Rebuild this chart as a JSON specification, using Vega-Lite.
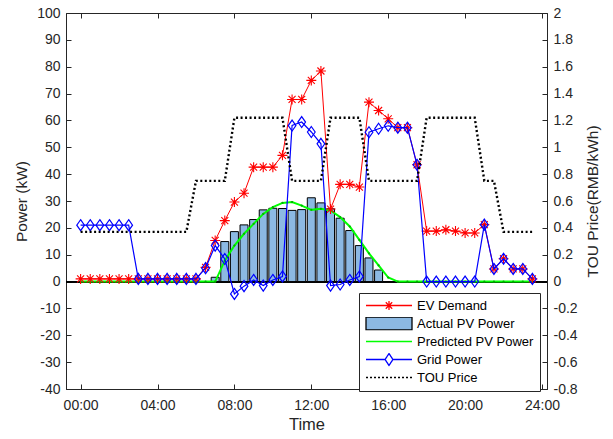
{
  "$schema": "https://vega.github.io/schema/vega-lite/v6.json",
  "width": 481,
  "height": 376,
  "autosize": "none",
  "padding": {"left": 66, "top": 13, "right": 66, "bottom": 50},
  "background": "white",
  "data": {"values": [
    {"t": 0, "ev": 1, "pv": null, "pred": 0, "grid": 21, "tou": 0.37},
    {"t": 0.5, "ev": 1, "pv": null, "pred": 0, "grid": 21, "tou": 0.37},
    {"t": 1, "ev": 1, "pv": null, "pred": 0, "grid": 21, "tou": 0.37},
    {"t": 1.5, "ev": 1, "pv": null, "pred": 0, "grid": 21, "tou": 0.37},
    {"t": 2, "ev": 1, "pv": null, "pred": 0, "grid": 21, "tou": 0.37},
    {"t": 2.5, "ev": 1, "pv": null, "pred": 0, "grid": 21, "tou": 0.37},
    {"t": 3, "ev": 1, "pv": null, "pred": 0, "grid": 1, "tou": 0.37},
    {"t": 3.5, "ev": 1, "pv": null, "pred": 0, "grid": 1, "tou": 0.37},
    {"t": 4, "ev": 1, "pv": null, "pred": 0, "grid": 1, "tou": 0.37},
    {"t": 4.5, "ev": 1, "pv": null, "pred": 0, "grid": 1, "tou": 0.37},
    {"t": 5, "ev": 1, "pv": null, "pred": 0, "grid": 1, "tou": 0.37},
    {"t": 5.5, "ev": 1, "pv": null, "pred": 0, "grid": 1, "tou": 0.37},
    {"t": 6, "ev": 1, "pv": null, "pred": 0, "grid": 1, "tou": 0.75},
    {"t": 6.5, "ev": 5.3, "pv": null, "pred": 0, "grid": 5, "tou": 0.75},
    {"t": 7, "ev": 15.3, "pv": 1.6, "pred": 0, "grid": 13.4, "tou": 0.75},
    {"t": 7.5, "ev": 22.7, "pv": 14.9, "pred": 7.8, "grid": 8.4, "tou": 0.75},
    {"t": 8, "ev": 29.6, "pv": 18.6, "pred": 13.4, "grid": -4.6, "tou": 1.22},
    {"t": 8.5, "ev": 32.9, "pv": 21.1, "pred": 17.8, "grid": -1.7, "tou": 1.22},
    {"t": 9, "ev": 42.6, "pv": 23.1, "pred": 21.5, "grid": 0.6, "tou": 1.22},
    {"t": 9.5, "ev": 42.6, "pv": 26.7, "pred": 25.2, "grid": -1.5, "tou": 1.22},
    {"t": 10, "ev": 42.6, "pv": 27.3, "pred": 27.7, "grid": 0.6, "tou": 1.22},
    {"t": 10.5, "ev": 47, "pv": 27.2, "pred": 29.3, "grid": 1.9, "tou": 1.22},
    {"t": 11, "ev": 67.8, "pv": 26.5, "pred": 29.6, "grid": 58.1, "tou": 0.75},
    {"t": 11.5, "ev": 67.8, "pv": 26.8, "pred": 28.3, "grid": 59.4, "tou": 0.75},
    {"t": 12, "ev": 74.9, "pv": 31.2, "pred": 26.7, "grid": 55.7, "tou": 0.75},
    {"t": 12.5, "ev": 78.4, "pv": 29.3, "pred": 27.1, "grid": 51.3, "tou": 0.75},
    {"t": 13, "ev": 27, "pv": 27.1, "pred": 26.5, "grid": -1.5, "tou": 1.22},
    {"t": 13.5, "ev": 36.2, "pv": 23.6, "pred": 24, "grid": -1.1, "tou": 1.22},
    {"t": 14, "ev": 36.2, "pv": 19.0, "pred": 20.5, "grid": 0.6, "tou": 1.22},
    {"t": 14.5, "ev": 35.2, "pv": 13.4, "pred": 15.5, "grid": 1.9, "tou": 1.22},
    {"t": 15, "ev": 66.8, "pv": 8.8, "pred": 10.5, "grid": 55.6, "tou": 0.75},
    {"t": 15.5, "ev": 63.7, "pv": 4.3, "pred": 6, "grid": 56.9, "tou": 0.75},
    {"t": 16, "ev": 60.6, "pv": null, "pred": 1.5, "grid": 58, "tou": 0.75},
    {"t": 16.5, "ev": 57.3, "pv": null, "pred": 0, "grid": 57.3, "tou": 0.75},
    {"t": 17, "ev": 57.3, "pv": null, "pred": 0, "grid": 57.3, "tou": 0.75},
    {"t": 17.5, "ev": 43.5, "pv": null, "pred": 0, "grid": 43.5, "tou": 0.75},
    {"t": 18, "ev": 18.8, "pv": null, "pred": 0, "grid": 0, "tou": 1.22},
    {"t": 18.5, "ev": 18.8, "pv": null, "pred": 0, "grid": 0, "tou": 1.22},
    {"t": 19, "ev": 19.3, "pv": null, "pred": 0, "grid": 0, "tou": 1.22},
    {"t": 19.5, "ev": 18.8, "pv": null, "pred": 0, "grid": 0, "tou": 1.22},
    {"t": 20, "ev": 18.1, "pv": null, "pred": 0, "grid": 0, "tou": 1.22},
    {"t": 20.5, "ev": 18.1, "pv": null, "pred": 0, "grid": 0, "tou": 1.22},
    {"t": 21, "ev": 21.2, "pv": null, "pred": 0, "grid": 21.2, "tou": 0.75},
    {"t": 21.5, "ev": 4.7, "pv": null, "pred": 0, "grid": 4.7, "tou": 0.75},
    {"t": 22, "ev": 8.5, "pv": null, "pred": 0, "grid": 8.5, "tou": 0.37},
    {"t": 22.5, "ev": 4.7, "pv": null, "pred": 0, "grid": 4.7, "tou": 0.37},
    {"t": 23, "ev": 4.7, "pv": null, "pred": 0, "grid": 4.7, "tou": 0.37},
    {"t": 23.5, "ev": 1, "pv": null, "pred": 0, "grid": 1, "tou": 0.37}
  ]},
  "layer": [
    {
      "mark": {"type": "rule", "color": "#000000", "strokeWidth": 1},
      "encoding": {
        "y": {"datum": 0, "type": "quantitative",
              "scale": {"domain": [-40, 100], "nice": false, "zero": false},
              "axis": {"orient": "left", "title": "Power (kW)", "values": [-40, -30, -20, -10, 0, 10, 20, 30, 40, 50, 60, 70, 80, 90, 100],
                       "labelExpr": "'' + datum.value", "labelOverlap": false, "tickSize": -5, "labelPadding": 11, "titlePadding": 7}}
      }
    },
    {
      "layer": [
        {
          "mark": {"type": "bar", "size": 8, "color": "#8cb9e3", "stroke": "#000000", "strokeWidth": 1},
          "encoding": {
            "x": {"field": "t", "type": "quantitative",
                  "scale": {"domain": [-0.5, 24], "nice": false, "zero": false},
                  "axis": {"orient": "bottom", "title": "Time", "values": [0, 4, 8, 12, 16, 20, 24],
                           "labelExpr": "(datum.value < 10 ? '0' : '') + datum.value + ':00'",
                           "labelFlush": false, "labelOverlap": false, "tickSize": -5, "labelPadding": 14, "titlePadding": 4, "titleFontSize": 16.5}},
            "y": {"field": "pv", "type": "quantitative", "stack": null,
                  "scale": {"domain": [-40, 100], "nice": false, "zero": false}, "axis": null}
          }
        },
        {
          "mark": {"type": "line", "color": "#00ff00", "strokeWidth": 2},
          "encoding": {"x": {"field": "t", "type": "quantitative"}, "y": {"field": "pred", "type": "quantitative", "axis": null}}
        },
        {
          "mark": {"type": "point", "filled": true, "color": "#00b000", "size": 5, "opacity": 1},
          "encoding": {"x": {"field": "t", "type": "quantitative"}, "y": {"field": "pred", "type": "quantitative", "axis": null}}
        },
        {
          "mark": {"type": "line", "color": "#ff0000", "strokeWidth": 1},
          "encoding": {"x": {"field": "t", "type": "quantitative"}, "y": {"field": "ev", "type": "quantitative", "axis": null}}
        },
        {
          "mark": {"type": "point", "filled": false, "color": "#ff0000", "size": 100, "strokeWidth": 1.1, "opacity": 1,
                   "shape": "M-1,0L1,0M0,-1L0,1M-0.7,-0.7L0.7,0.7M-0.7,0.7L0.7,-0.7"},
          "encoding": {"x": {"field": "t", "type": "quantitative"}, "y": {"field": "ev", "type": "quantitative", "axis": null}}
        },
        {
          "mark": {"type": "line", "color": "#0000ff", "strokeWidth": 1.2},
          "encoding": {"x": {"field": "t", "type": "quantitative"}, "y": {"field": "grid", "type": "quantitative", "axis": null}}
        },
        {
          "mark": {"type": "point", "filled": false, "color": "#0000ff", "size": 121, "strokeWidth": 1.2, "opacity": 1,
                   "shape": "M0,-1L0.7,0L0,1L-0.7,0Z"},
          "encoding": {"x": {"field": "t", "type": "quantitative"}, "y": {"field": "grid", "type": "quantitative", "axis": null}}
        },
        {
          "mark": {"type": "point", "filled": false, "opacity": 0, "size": 1},
          "encoding": {
            "x": {"field": "t", "type": "quantitative"},
            "y": {"field": "grid", "type": "quantitative", "axis": null},
            "shape": {"datum": "EV Demand",
                      "scale": {"domain": ["EV Demand", "Actual PV Power", "Predicted PV Power", "Grid Power", "TOU Price"],
                                "range": ["M-1,0L1,0M0,-0.2L0,0.2M-0.2,0L0.2,0M-0.14,-0.14L0.14,0.14M-0.14,0.14L0.14,-0.14",
                                          "M-1,-0.28L1,-0.28L1,0.28L-1,0.28Z",
                                          "M-1,0L1,0",
                                          "M-1,0L-0.17,0M0.17,0L1,0M0,-0.26L0.17,0L0,0.26L-0.17,0Z",
                                          "M-1,0L1,0"]},
                      "legend": {"title": null, "orient": "none", "legendX": 293, "legendY": 280, "direction": "vertical",
                                 "fillColor": "#ffffff", "strokeColor": "#262626", "padding": 6,
                                 "labelFont": "Liberation Sans", "labelFontSize": 13, "labelColor": "#000000", "labelOffset": 4,
                                 "symbolSize": 2116, "clipHeight": 13, "rowPadding": 4, "symbolOpacity": 1, "symbolStrokeWidth": 1.3}},
            "stroke": {"datum": "EV Demand",
                       "scale": {"domain": ["EV Demand", "Actual PV Power", "Predicted PV Power", "Grid Power", "TOU Price"],
                                 "range": ["#ff0000", "#000000", "#00ff00", "#0000ff", "#000000"]},
                       "legend": {"title": null, "orient": "none", "legendX": 293, "legendY": 280, "direction": "vertical",
                                  "fillColor": "#ffffff", "strokeColor": "#262626", "padding": 6,
                                  "labelFont": "Liberation Sans", "labelFontSize": 13, "labelColor": "#000000", "labelOffset": 4,
                                  "symbolSize": 2116, "clipHeight": 13, "rowPadding": 4, "symbolOpacity": 1, "symbolStrokeWidth": 1.3}},
            "fill": {"datum": "EV Demand",
                     "scale": {"domain": ["EV Demand", "Actual PV Power", "Predicted PV Power", "Grid Power", "TOU Price"],
                               "range": ["transparent", "#8cb9e3", "transparent", "transparent", "transparent"]},
                     "legend": {"title": null, "orient": "none", "legendX": 293, "legendY": 280, "direction": "vertical",
                                "fillColor": "#ffffff", "strokeColor": "#262626", "padding": 6,
                                "labelFont": "Liberation Sans", "labelFontSize": 13, "labelColor": "#000000", "labelOffset": 4,
                                "symbolSize": 2116, "clipHeight": 13, "rowPadding": 4, "symbolOpacity": 1, "symbolStrokeWidth": 1.3}},
            "strokeDash": {"datum": "EV Demand",
                           "scale": {"domain": ["EV Demand", "Actual PV Power", "Predicted PV Power", "Grid Power", "TOU Price"],
                                     "range": [[1, 0], [1, 0], [1, 0], [1, 0], [2, 2]]},
                           "legend": {"title": null, "orient": "none", "legendX": 293, "legendY": 280, "direction": "vertical",
                                      "fillColor": "#ffffff", "strokeColor": "#262626", "padding": 6,
                                      "labelFont": "Liberation Sans", "labelFontSize": 13, "labelColor": "#000000", "labelOffset": 4,
                                      "symbolSize": 2116, "clipHeight": 13, "rowPadding": 4, "symbolOpacity": 1, "symbolStrokeWidth": 1.3}}
          }
        }
      ]
    },
    {
      "mark": {"type": "line", "color": "#000000", "strokeWidth": 2.4, "strokeDash": [2, 2.5]},
      "encoding": {
        "x": {"field": "t", "type": "quantitative",
              "axis": {"orient": "top", "labels": false, "title": null, "domain": false, "values": [0, 4, 8, 12, 16, 20, 24], "tickSize": -5}},
        "y": {"field": "tou", "type": "quantitative",
              "scale": {"domain": [-0.8, 2], "nice": false, "zero": false},
              "axis": {"orient": "right", "title": "TOU Price(RMB/kWh)", "titleAngle": -90, "titleBaseline": "top",
                       "values": [-0.8, -0.6, -0.4, -0.2, 0, 0.2, 0.4, 0.6, 0.8, 1, 1.2, 1.4, 1.6, 1.8, 2],
                       "labelExpr": "'' + round(datum.value * 10) / 10", "labelOverlap": false, "tickSize": -5, "labelPadding": 11, "titlePadding": 8}}
      }
    }
  ],
  "resolve": {"scale": {"y": "independent"}, "axis": {"x": "independent"}},
  "config": {
    "font": "Liberation Sans",
    "view": {"stroke": "#262626", "strokeWidth": 1},
    "axis": {
      "grid": false,
      "labelFont": "Liberation Sans", "labelFontSize": 14, "labelColor": "#262626",
      "titleFont": "Liberation Sans", "titleFontSize": 15.5, "titleFontWeight": "normal", "titleColor": "#262626",
      "domainColor": "#262626", "tickColor": "#262626", "domainWidth": 1, "tickWidth": 1
    }
  }
}
